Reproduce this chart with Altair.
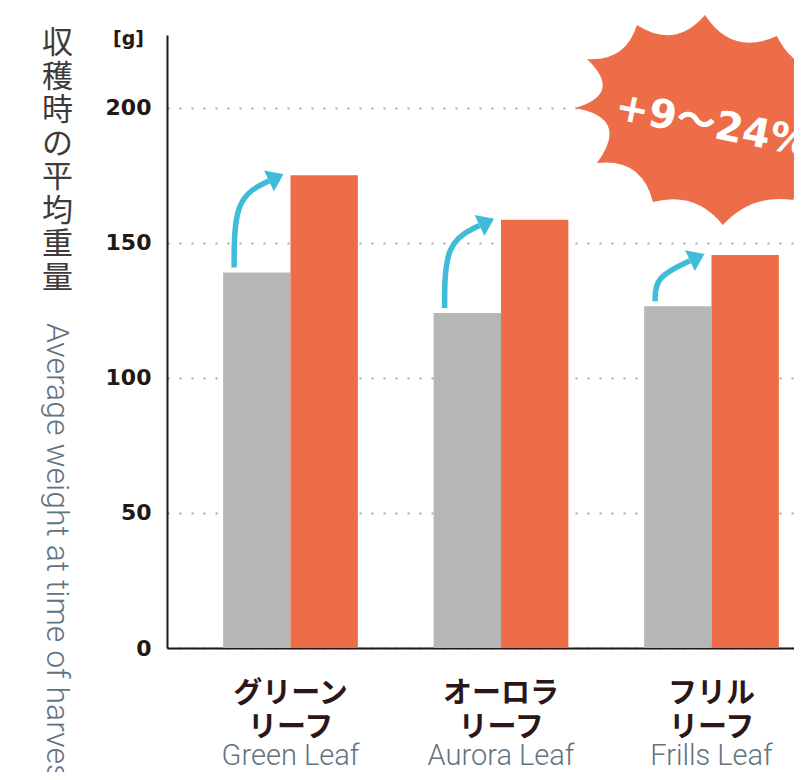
import math
import altair as alt
import pandas as pd

# ---------------- data ----------------
labels_jp_1 = ["グリーン", "オーロラ", "フリル"]
labels_jp_2 = ["リーフ", "リーフ", "リーフ"]
labels_en = ["Green Leaf", "Aurora Leaf", "Frills Leaf"]
conventional = [139, 124, 126.5]     # gray bars [g]
improved = [175, 158.5, 145.5]       # orange bars [g]
y_ticks = [0, 50, 100, 150, 200]
y_title_jp = "収穫時の平均重量"
y_title_en = "Average weight at time of harvest"
unit_label = "[g]"
burst_label = "+9～24%"
burst_center = (2.04, 195.4)         # (category units, grams)
burst_text_pos = (2.005, 193.3)

# ---------------- layout / style ----------------
PXX = 210.5                          # px per category step
W, H = 627, 613
X_MIN = -0.5867
X_MAX = X_MIN + W / PXX
Y_MAX = 226.9
PXY = H / Y_MAX
BAR = 0.32

GRAY = "#b5b6b6"
ORANGE = "#ec6d47"
CYAN = "#3fbcd7"
DARK = "#231815"
LABEL_DARK = "#2b1718"
EN_GRAY = "#617380"

xs = alt.Scale(domain=[X_MIN, X_MAX], nice=False, zero=False)
ys = alt.Scale(domain=[0, Y_MAX], nice=False, zero=False)

x_axis = alt.Axis(title=None, labels=False, ticks=False, tickSize=0, grid=False,
                  domainColor=DARK, domainWidth=2)
y_axis = alt.Axis(values=y_ticks, title=unit_label, titleAngle=0, titleX=-39, titleY=3,
                  titleAlign="center", titleBaseline="middle", titleFontSize=19,
                  titleFont="DejaVu Sans", titleFontWeight="bold", titleColor=DARK,
                  labelFont="DejaVu Sans", labelFontSize=22, labelFontWeight="bold",
                  labelColor=DARK, labelPadding=16, ticks=False, tickSize=0,
                  domainColor=DARK, domainWidth=2,
                  gridColor="#a3a3a3", gridDash=[2, 10], gridWidth=2)

# ---------------- bars ----------------
rows = []
for i, (g, o) in enumerate(zip(conventional, improved)):
    rows.append(dict(x=i - BAR, x2=i, y=g, y2=0, s="conventional"))
    rows.append(dict(x=i, x2=i + BAR, y=o, y2=0, s="improved"))
bars_df = pd.DataFrame(rows)

bars = alt.Chart(bars_df).mark_bar().encode(
    x=alt.X("x:Q", scale=xs, axis=x_axis),
    x2="x2:Q",
    y=alt.Y("y:Q", scale=ys, axis=y_axis),
    y2="y2:Q",
    color=alt.Color("s:N", scale=alt.Scale(domain=["conventional", "improved"],
                                           range=[GRAY, ORANGE]), legend=None),
)

# ---------------- arrows ----------------
TH = math.radians(25)
HEAD = 16
line_rows, head_rows = [], []
for i, (g, o) in enumerate(zip(conventional, improved)):
    x0 = i - BAR + 11 / PXX
    y0 = g + 5 / PXY
    xt = i - 7 / PXX
    yt = o + 1 / PXY
    xb = xt - HEAD * math.cos(TH) / PXX
    yb = yt - HEAD * math.sin(TH) / PXY
    dxp = (xb - x0) * PXX
    y1 = yb - dxp * math.tan(TH) / PXY
    line_rows += [dict(a=i, k=0, x=x0, y=y0), dict(a=i, k=1, x=x0, y=y1),
                  dict(a=i, k=2, x=xb, y=yb)]
    head_rows.append(dict(a=i, x=xt, y=yt))

arrow_lines = alt.Chart(pd.DataFrame(line_rows)).mark_line(
    interpolate="basis", strokeWidth=5.5, color=CYAN, strokeCap="butt"
).encode(x=alt.X("x:Q", scale=xs), y=alt.Y("y:Q", scale=ys),
         detail="a:N", order=alt.Order("k:Q"))

arrow_heads = alt.Chart(pd.DataFrame(head_rows)).mark_point(
    shape="M0,0 L-1,-0.72 L-1,0.72 Z", filled=True, size=(2 * HEAD) ** 2,
    angle=335, color=CYAN, opacity=1, strokeWidth=0
).encode(x=alt.X("x:Q", scale=xs), y=alt.Y("y:Q", scale=ys))

# ---------------- burst ----------------
tips = [(-145, -12), (-133, -61), (-83, -95), (-15, -105), (57, -84), (125, -55),
        (150, 15), (73, 80), (3, 105), (-67, 82), (-123, 43)]
depths = [22, 12, 15, 16, 16, 15, 12, 10, 12, 15, 24]
R = 170.0
parts = []
n = len(tips)
for k in range(n):
    ax_, ay_ = tips[k]
    bx_, by_ = tips[(k + 1) % n]
    mx, my = (ax_ + bx_) / 2, (ay_ + by_) / 2
    L = math.hypot(bx_ - ax_, by_ - ay_)
    nx, ny = -(by_ - ay_) / L, (bx_ - ax_) / L
    if nx * (-mx) + ny * (-my) < 0:
        nx, ny = -nx, -ny
    cx, cy = mx + nx * 2 * depths[k], my + ny * 2 * depths[k]
    if k == 0:
        parts.append(f"M{ax_ / R:.4f},{ay_ / R:.4f}")
    parts.append(f"Q{cx / R:.4f},{cy / R:.4f} {bx_ / R:.4f},{by_ / R:.4f}")
burst_path = " ".join(parts) + " Z"

burst = alt.Chart(pd.DataFrame([dict(x=burst_center[0], y=burst_center[1])])).mark_point(
    shape=burst_path, filled=True, size=(2 * R) ** 2, color=ORANGE, opacity=1, strokeWidth=0
).encode(x=alt.X("x:Q", scale=xs), y=alt.Y("y:Q", scale=ys))

burst_txt = alt.Chart(pd.DataFrame([dict(x=burst_text_pos[0], y=burst_text_pos[1], t=burst_label)])).mark_text(
    font="DejaVu Sans, Noto Sans CJK JP", fontSize=40, fontWeight="bold", color="white",
    angle=11, align="center", baseline="middle"
).encode(x=alt.X("x:Q", scale=xs), y=alt.Y("y:Q", scale=ys), text="t:N")

# ---------------- titles ----------------
one = pd.DataFrame({"d": [0]})
ytitle_jp = alt.Chart(one).mark_text(
    font="Noto Sans CJK JP", fontSize=31, color="#3e3a39", lineHeight=33.5,
    align="center", baseline="top"
).encode(x=alt.value(-109.5), y=alt.value(-6), text=alt.value(list(y_title_jp)))

ytitle_en = alt.Chart(one).mark_text(
    font="Roboto", fontSize=32, fontWeight=300, color=EN_GRAY, angle=90,
    align="left", baseline="alphabetic"
).encode(x=alt.value(-120), y=alt.value(288), text=alt.value(y_title_en))

lab_df = pd.DataFrame(dict(x=list(range(len(labels_en))), j1=labels_jp_1, j2=labels_jp_2, en=labels_en))
xlab1 = alt.Chart(lab_df).mark_text(
    font="Noto Sans CJK JP", fontSize=29, fontWeight="bold", color=LABEL_DARK,
    align="center", baseline="middle"
).encode(x=alt.X("x:Q", scale=xs), y=alt.value(659), text="j1:N")
xlab2 = alt.Chart(lab_df).mark_text(
    font="Noto Sans CJK JP", fontSize=29, fontWeight="bold", color=LABEL_DARK,
    align="center", baseline="middle"
).encode(x=alt.X("x:Q", scale=xs), y=alt.value(693), text="j2:N")
xlab3 = alt.Chart(lab_df).mark_text(
    font="Roboto", fontSize=29, fontWeight=300, color=EN_GRAY,
    align="center", baseline="alphabetic"
).encode(x=alt.X("x:Q", scale=xs), y=alt.value(730), text="en:N")

chart = alt.layer(
    bars, arrow_lines, arrow_heads, burst, burst_txt,
    ytitle_jp, ytitle_en, xlab1, xlab2, xlab3
).properties(
    width=W, height=H,
    autosize=alt.AutoSizeParams(type="none"),
    padding={"left": 159, "top": 27, "right": 0, "bottom": 124},
    background="white",
).configure_view(strokeWidth=0)

chart.save("out.html", embed_options={"renderer": "svg", "actions": False})
